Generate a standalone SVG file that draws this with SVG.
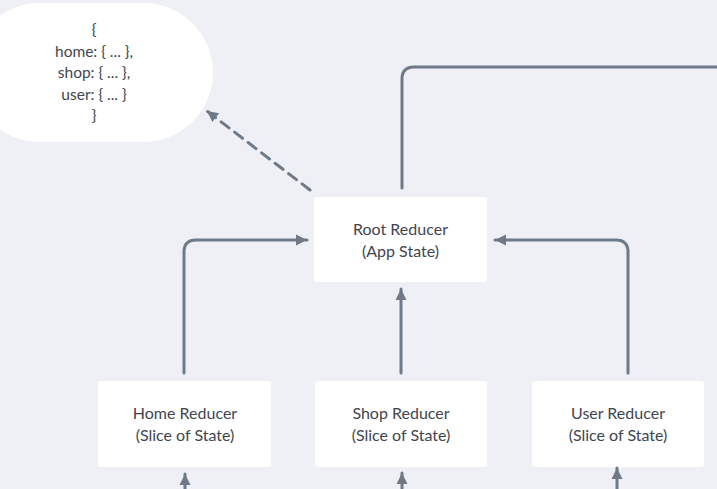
<svg xmlns="http://www.w3.org/2000/svg" width="717" height="489" viewBox="0 0 717 489">
<defs>
<style>
.node rect{fill:#ffffff;}
.lbl{font-family:Lato,"Liberation Sans",sans-serif;font-size:16px;fill:#41464e;text-anchor:middle;}
.bub{font-family:Lato,"Liberation Sans",sans-serif;font-size:15.5px;fill:#41464e;text-anchor:middle;}
.con{fill:none;stroke:#6e7a88;stroke-width:3;stroke-linecap:round;stroke-linejoin:round;}
.dash{stroke-dasharray:10 7;stroke-linecap:round;}
</style>
<marker id="ah" markerUnits="userSpaceOnUse" markerWidth="14" markerHeight="14" viewBox="0 0 14 14" refX="12" refY="7" orient="auto">
<path d="M1,1.5 L12,7 L1,12.5 Z" fill="#6e7a88"/>
</marker>
</defs>
<rect x="0" y="0" width="717" height="489" fill="#eef0f5"/>
<g id="state">
<rect x="-30" y="3" width="243" height="139" rx="70" ry="69.5" fill="#ffffff"/>
<text class="bub" x="94" y="35">{</text>
<text class="bub" x="94" y="57">home: { ... },</text>
<text class="bub" x="94" y="78">shop: { ... },</text>
<text class="bub" x="94" y="100">user: { ... }</text>
<text class="bub" x="94" y="121">}</text>
</g>
<g id="root" class="node">
<rect x="314" y="197" width="173" height="85" rx="3"/>
<text class="lbl" x="400.5" y="235">Root Reducer</text>
<text class="lbl" x="400.5" y="257">(App State)</text>
</g>
<g id="home" class="node">
<rect x="98" y="381" width="173" height="86" rx="3"/>
<text class="lbl" x="185" y="419">Home Reducer</text>
<text class="lbl" x="185" y="441">(Slice of State)</text>
</g>
<g id="shop" class="node">
<rect x="315" y="381" width="172" height="86" rx="3"/>
<text class="lbl" x="401" y="419">Shop Reducer</text>
<text class="lbl" x="401" y="441">(Slice of State)</text>
</g>
<g id="user" class="node">
<rect x="532" y="381" width="172" height="86" rx="3"/>
<text class="lbl" x="618" y="419">User Reducer</text>
<text class="lbl" x="618" y="441">(Slice of State)</text>
</g>
<g id="connectors">
<path class="con" d="M184,373 L184,252 Q184,240 196,240 L307,240" marker-end="url(#ah)"/>
<path class="con" d="M628,373 L628,252 Q628,240 616,240 L495,240" marker-end="url(#ah)"/>
<path class="con" d="M401,373 L401,289" marker-end="url(#ah)"/>
<path class="con" d="M402,188 L402,79 Q402,67 414,67 L720,67"/>
<path class="con dash" d="M310,190 L207,111" marker-end="url(#ah)"/>
<path class="con" d="M185,492 L185,474" marker-end="url(#ah)"/>
<path class="con" d="M402,492 L402,473" marker-end="url(#ah)"/>
<path class="con" d="M617,492 L617,468" marker-end="url(#ah)"/>
</g>
</svg>
